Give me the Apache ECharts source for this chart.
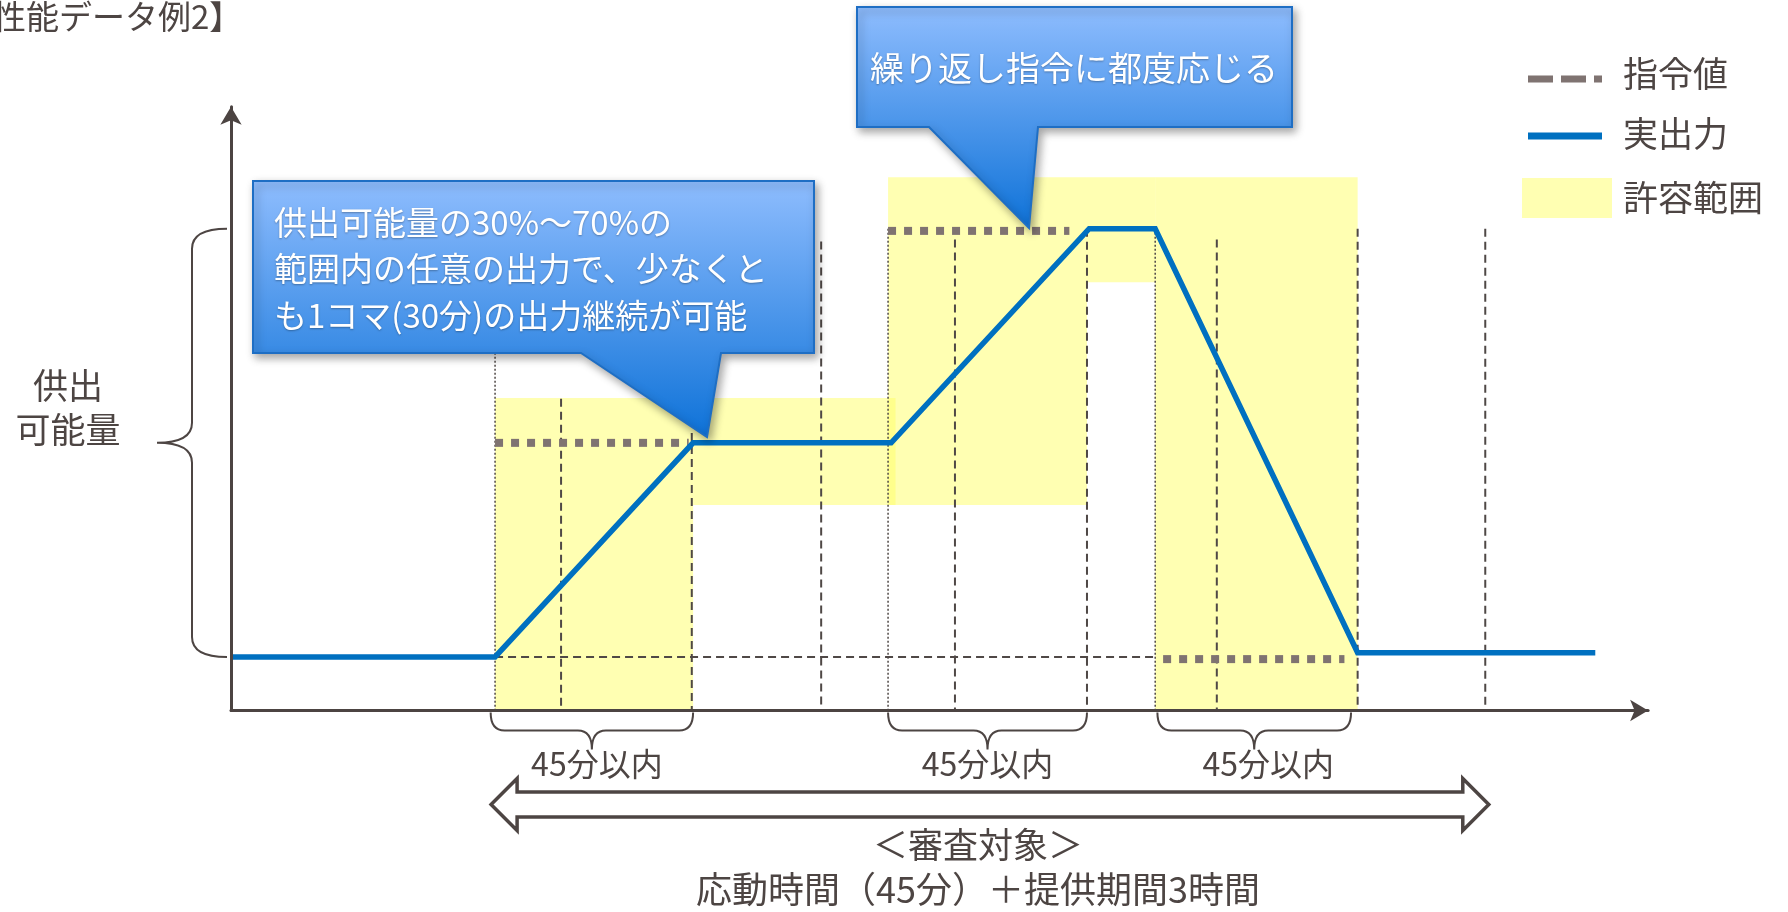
<!DOCTYPE html>
<html><head><meta charset="utf-8">
<script src="https://cdn.jsdelivr.net/npm/echarts@6/dist/echarts.min.js"></script>
<style>html,body{margin:0;padding:0;background:#fff}#c{width:1788px;height:912px}</style>
</head><body><div id="c"></div>
<script>
// ---- data (time in minutes, level in % of 供出可能量) ----
const outputX = [0, 60, 105, 150, 195, 210, 256, 310];
const outputY = [0, 0, 50, 50, 100, 100, 1, 1];
// command segments: [startMin, endMin, level]
const commandSegments = [[60, 104, 50], [149.3, 190.5, 99.5], [211.8, 253, -0.5]];
// tolerance bands: [x0, x1, y0, y1]
const toleranceBands = [[60, 105, -12.5, 60.5], [105, 151, 35.5, 60.5], [149.3, 194.5, 35.5, 112], [194.5, 210, 87.5, 112], [210, 256, -12.5, 112]];
// 30-minute slot boundaries: [x, topLevel]
const slotLines = [[75, 60.3], [104.7, 52.3], [134.1, 97], [164.5, 97.5], [194.5, 100], [224, 97.5], [256, 100], [285, 100]];
// command start markers: [x, topLevel]
const commandStartLines = [[60, 100], [149.3, 100], [210, 100]];
// baseline reference: [x0, x1, level]
const baselineRef = [[60, 210, 0]];
// response windows (45分以内): [x0, x1]
const responseWindows = [[59, 105], [149.3, 194.5], [210.5, 254.5]];
const windowLabels = ['45分以内', '45分以内', '45分以内'];
// review period arrow: [x0, x1]
const reviewPeriod = [[59.1, 285.8]];
// supply capability brace: [level0, level1]
const capabilityRange = [[0, 100]];

const X_MIN = 0, X_MAX = 322, Y_MIN = -12.5, Y_MAX = 128.5;
const FONT = '"Noto Sans CJK JP", "Noto Sans", sans-serif';
const TXT = '#4d4543';
const YELLOW = 'rgba(255,255,102,0.5)';

const chart = echarts.init(document.getElementById('c'), null, {renderer: 'canvas'});

function lineItem(stroke, width, dash) {
  return function (params, api) {
    const p0 = api.coord([api.value(0), api.value(1)]);
    const p1 = api.coord([api.value(0), Y_MIN]);
    return {type: 'line', shape: {x1: p0[0], y1: p0[1], x2: p1[0], y2: p1[1]},
      style: {stroke: stroke, lineWidth: width, lineDash: dash, fill: null}};
  };
}

const option = {
  animation: false,
  backgroundColor: '#ffffff',
  grid: {left: 231, top: 106.7, width: 1417.1, height: 603.8, containLabel: false},
  xAxis: {type: 'value', min: X_MIN, max: X_MAX, z: 10,
    axisLine: {show: true, onZero: false, symbol: ['none', 'arrow'], symbolSize: [16, 18],
      lineStyle: {color: '#4c4442', width: 3}},
    axisTick: {show: false}, axisLabel: {show: false}, splitLine: {show: false}},
  yAxis: {type: 'value', min: Y_MIN, max: Y_MAX, z: 10,
    axisLine: {show: true, onZero: false, symbol: ['none', 'arrow'], symbolSize: [16, 18],
      lineStyle: {color: '#4c4442', width: 3}},
    axisTick: {show: false}, axisLabel: {show: false}, splitLine: {show: false}},
  series: [
    {type: 'custom', name: '許容範囲', z: 1, silent: true,
      encode: {x: [0, 1], y: [2, 3]}, data: toleranceBands,
      renderItem: function (params, api) {
        const p0 = api.coord([api.value(0), api.value(3)]);
        const p1 = api.coord([api.value(1), api.value(2)]);
        return {type: 'rect', shape: {x: p0[0], y: p0[1], width: p1[0] - p0[0], height: p1[1] - p0[1]},
          style: {fill: YELLOW}};
      }},
    {type: 'custom', name: 'slots', z: 2, silent: true, encode: {x: 0, y: 1}, data: slotLines,
      renderItem: lineItem('#4f4846', 2, [8, 5])},
    {type: 'custom', name: 'commandStart', z: 2, silent: true, encode: {x: 0, y: 1}, data: commandStartLines,
      renderItem: lineItem('#4f4846', 1.5, [2, 2])},
    {type: 'custom', name: 'baseline', z: 2, silent: true, encode: {x: [0, 1], y: 2}, data: baselineRef,
      renderItem: function (params, api) {
        const p0 = api.coord([api.value(0), api.value(2)]);
        const p1 = api.coord([api.value(1), api.value(2)]);
        return {type: 'line', shape: {x1: p0[0], y1: p0[1], x2: p1[0], y2: p1[1]},
          style: {stroke: '#4f4846', lineWidth: 2, lineDash: [8, 5]}};
      }},
    {type: 'custom', name: '指令値', z: 3, silent: true, encode: {x: [0, 1], y: 2}, data: commandSegments,
      renderItem: function (params, api) {
        const p0 = api.coord([api.value(0), api.value(2)]);
        const p1 = api.coord([api.value(1), api.value(2)]);
        return {type: 'line', shape: {x1: p0[0], y1: p0[1], x2: p1[0], y2: p1[1]},
          style: {stroke: '#7f7371', lineWidth: 8, lineDash: [8, 8], lineCap: 'butt'}};
      }},
    {type: 'line', name: '実出力', z: 4, silent: true, showSymbol: false, symbol: 'none',
      data: outputX.map(function (x, i) { return [x, outputY[i]]; }),
      lineStyle: {color: '#0070C0', width: 5.5, join: 'miter'}},
    {type: 'custom', name: 'windows', z: 5, silent: true, encode: {x: [0, 1]}, data: responseWindows,
      renderItem: function (params, api) {
        const a = api.coord([api.value(0), Y_MIN]);
        const b = api.coord([api.value(1), Y_MIN]);
        const y0 = a[1] + 2, y1 = y0 + 18, y2 = y0 + 37, r = 14;
        const xm = (a[0] + b[0]) / 2;
        const d = 'M' + a[0] + ',' + y0 + ' Q' + a[0] + ',' + y1 + ' ' + (a[0] + r) + ',' + y1 +
          ' L' + (xm - r) + ',' + y1 + ' Q' + xm + ',' + y1 + ' ' + xm + ',' + y2 +
          ' Q' + xm + ',' + y1 + ' ' + (xm + r) + ',' + y1 +
          ' L' + (b[0] - r) + ',' + y1 + ' Q' + b[0] + ',' + y1 + ' ' + b[0] + ',' + y0;
        const off = [5, 0, 14][params.dataIndex];
        return {type: 'group', children: [
          {type: 'path', shape: {pathData: d}, style: {fill: null, stroke: TXT, lineWidth: 2}},
          {type: 'text', x: xm + off, y: y0 + 51, style: {text: windowLabels[params.dataIndex],
            font: '32px ' + FONT, fill: TXT, align: 'center', verticalAlign: 'middle'}}
        ]};
      }},
    {type: 'custom', name: 'capability', z: 5, silent: true, encode: {y: [0, 1]}, data: capabilityRange,
      renderItem: function (params, api) {
        const a = api.coord([X_MIN, api.value(0)]);
        const b = api.coord([X_MIN, api.value(1)]);
        const xe = a[0] - 4, xl = a[0] - 39, xt = a[0] - 74, ym = (a[1] + b[1]) / 2, r = 20;
        const d = 'M' + xe + ',' + b[1] + ' Q' + xl + ',' + b[1] + ' ' + xl + ',' + (b[1] + r) +
          ' L' + xl + ',' + (ym - r) + ' Q' + xl + ',' + ym + ' ' + xt + ',' + ym +
          ' Q' + xl + ',' + ym + ' ' + xl + ',' + (ym + r) +
          ' L' + xl + ',' + (a[1] - r) + ' Q' + xl + ',' + a[1] + ' ' + xe + ',' + a[1];
        return {type: 'path', shape: {pathData: d}, style: {fill: null, stroke: TXT, lineWidth: 2}};
      }},
    {type: 'custom', name: 'review', z: 5, silent: true, encode: {x: [0, 1]}, data: reviewPeriod,
      renderItem: function (params, api) {
        const a = api.coord([api.value(0), Y_MIN]);
        const b = api.coord([api.value(1), Y_MIN]);
        const yc = a[1] + 94, hh = 26, sh = 12.5, hl = 26;
        const pts = [[a[0], yc], [a[0] + hl, yc - hh], [a[0] + hl, yc - sh], [b[0] - hl, yc - sh],
          [b[0] - hl, yc - hh], [b[0], yc], [b[0] - hl, yc + hh], [b[0] - hl, yc + sh],
          [a[0] + hl, yc + sh], [a[0] + hl, yc + hh]];
        return {type: 'polygon', shape: {points: pts},
          style: {fill: '#ffffff', stroke: TXT, lineWidth: 3.5, lineJoin: 'miter'}};
      }}
  ],
  graphic: [
    {type: 'text', x: -40, y: 16, style: {text: '【性能データ例2】', font: '33px ' + FONT, fill: TXT, align: 'left', verticalAlign: 'middle'}},
    {type: 'text', x: 68, y: 408, style: {text: '供出\n可能量', font: '35px ' + FONT, fill: TXT, align: 'center', verticalAlign: 'middle', lineHeight: 44}},
    // legend
    {type: 'line', shape: {x1: 1528, y1: 79, x2: 1602, y2: 79}, style: {stroke: '#7f7371', lineWidth: 7, lineDash: [25, 8]}},
    {type: 'text', x: 1623, y: 74, style: {text: '指令値', font: '35px ' + FONT, fill: TXT, verticalAlign: 'middle'}},
    {type: 'line', shape: {x1: 1528, y1: 136, x2: 1602, y2: 136}, style: {stroke: '#0070C0', lineWidth: 7}},
    {type: 'text', x: 1623, y: 134, style: {text: '実出力', font: '35px ' + FONT, fill: TXT, verticalAlign: 'middle'}},
    {type: 'rect', shape: {x: 1522, y: 178, width: 90, height: 40}, style: {fill: YELLOW}},
    {type: 'text', x: 1623, y: 198, style: {text: '許容範囲', font: '35px ' + FONT, fill: TXT, verticalAlign: 'middle'}},
    // review texts
    {type: 'text', x: 978, y: 845, style: {text: '＜審査対象＞', font: '35px ' + FONT, fill: TXT, align: 'center', verticalAlign: 'middle'}},
    {type: 'text', x: 978, y: 889, style: {text: '応動時間（45分）＋提供期間3時間', font: '36px ' + FONT, fill: TXT, align: 'center', verticalAlign: 'middle'}},
    // callout 1
    {type: 'polygon', z: 100, shape: {points: [[253, 181], [814, 181], [814, 353], [721, 353], [707, 437], [581, 353], [253, 353]]},
      style: {fill: {type: 'linear', x: 0, y: 0, x2: 0, y2: 1, colorStops: [{offset: 0, color: '#8FBDFE'}, {offset: 1, color: '#0E72D8'}]},
        stroke: '#1E6EC4', lineWidth: 2, shadowBlur: 8, shadowColor: 'rgba(0,0,0,0.35)', shadowOffsetX: 3, shadowOffsetY: 4}},
    {type: 'text', z: 101, x: 274, y: 199, style: {text: '供出可能量の30%～70%の\n範囲内の任意の出力で、少なくと\nも1コマ(30分)の出力継続が可能',
      font: '33px ' + FONT, fill: '#ffffff', align: 'left', verticalAlign: 'top', lineHeight: 46.5,
      textShadowColor: 'rgba(0,0,0,0.3)', textShadowBlur: 2, textShadowOffsetY: 1}},
    // callout 2
    {type: 'polygon', z: 100, shape: {points: [[857, 7], [1292, 7], [1292, 127], [1038, 127], [1029, 228], [929, 127], [857, 127]]},
      style: {fill: {type: 'linear', x: 0, y: 0, x2: 0, y2: 1, colorStops: [{offset: 0, color: '#8FBDFE'}, {offset: 1, color: '#0E72D8'}]},
        stroke: '#1E6EC4', lineWidth: 2, shadowBlur: 8, shadowColor: 'rgba(0,0,0,0.35)', shadowOffsetX: 3, shadowOffsetY: 4}},
    {type: 'text', z: 101, x: 1074, y: 68, style: {text: '繰り返し指令に都度応じる',
      font: '34px ' + FONT, fill: '#ffffff', align: 'center', verticalAlign: 'middle',
      textShadowColor: 'rgba(0,0,0,0.3)', textShadowBlur: 2, textShadowOffsetY: 1}}
  ]
};
chart.setOption(option);
</script>
</body></html>
